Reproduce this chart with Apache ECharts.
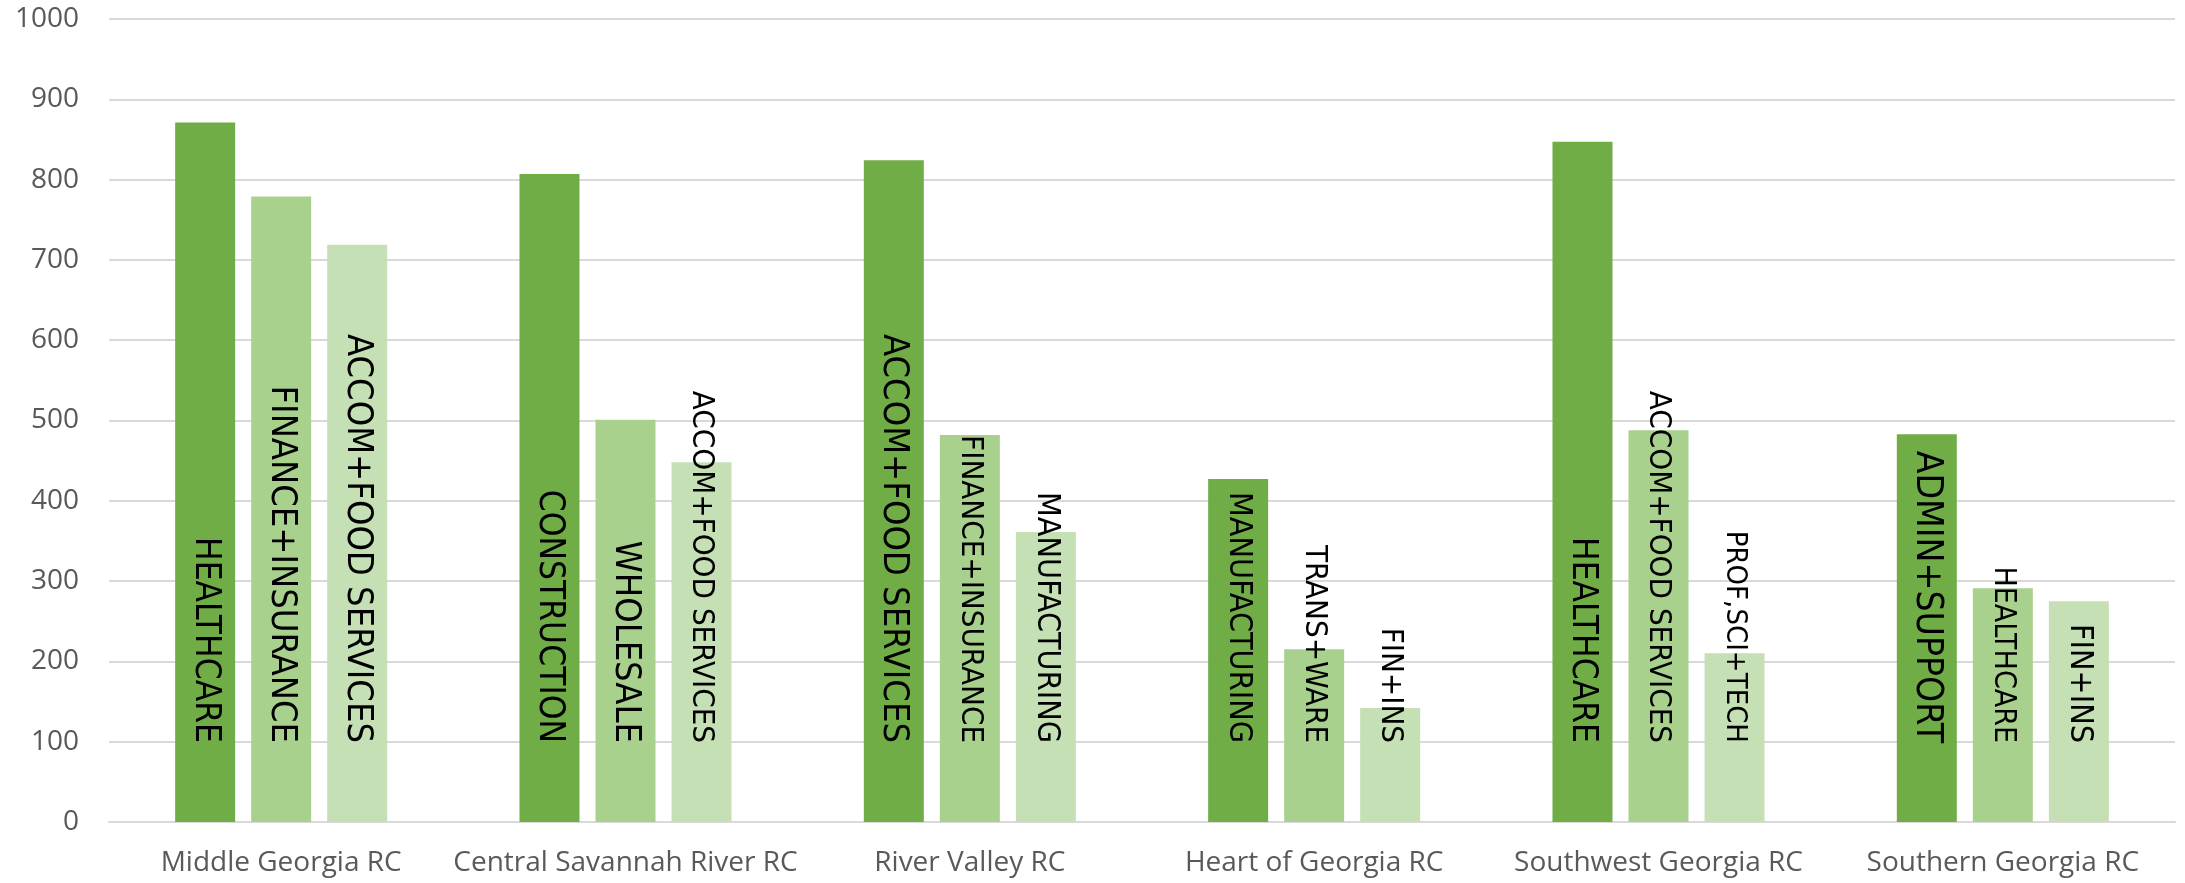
<!DOCTYPE html>
<html>
<head>
<meta charset="utf-8">
<style>
  html, body { margin: 0; padding: 0; background: #ffffff; }
  #chart { width: 2185px; height: 883px; }
</style>
<script src="https://cdn.jsdelivr.net/npm/echarts@6/dist/echarts.min.js"></script>
</head>
<body>
<div id="chart"></div>
<script>
// Regional commissions along the category axis
const regions = [
  'Middle Georgia RC',
  'Central Savannah River RC',
  'River Valley RC',
  'Heart of Georgia RC',
  'Southwest Georgia RC',
  'Southern Georgia RC'
];

// Top three industries per region (rank 1, 2, 3)
const firstValues  = [871, 807, 824, 427, 847, 483];
const secondValues = [779, 501, 482, 215, 488, 291];
const thirdValues  = [719, 448, 361, 142, 210, 275];

const firstIndustry  = ['HEALTHCARE', 'CONSTRUCTION', 'ACCOM+FOOD SERVICES', 'MANUFACTURING', 'HEALTHCARE', 'ADMIN+SUPPORT'];
const secondIndustry = ['FINANCE+INSURANCE', 'WHOLESALE', 'FINANCE+INSURANCE', 'TRANS+WARE', 'ACCOM+FOOD SERVICES', 'HEALTHCARE'];
const thirdIndustry  = ['ACCOM+FOOD SERVICES', 'ACCOM+FOOD SERVICES', 'MANUFACTURING', 'FIN+INS', 'PROF,SCI+TECH', 'FIN+INS'];

const yTicks = { min: 0, max: 1000, step: 100 };

// Label type sizes, one per bar in each series
const firstLabelSize  = [35, 35, 36, 32, 35, 37];
const secondLabelSize = [36, 36, 31, 31, 31, 30];
const thirdLabelSize  = [36, 31, 32, 31, 29, 32];

const colors = ['#70AD47', '#A9D18E', '#C5E0B4'];
const labelFont = "'Liberation Sans Narrow', 'Arial Narrow', 'DejaVu Sans Condensed', 'Liberation Sans', sans-serif";
const axisFont = "'Open Sans', 'Noto Sans', sans-serif";

function buildSeries(values, names, sizes, color) {
  return {
    type: 'bar',
    barWidth: 60,
    barGap: '26.7%',
    itemStyle: { color: color },
    data: values.map((v, i) => ({
      value: v,
      label: {
        show: true,
        formatter: names[i],
        fontSize: sizes[i]
      }
    })),
    label: {
      show: true,
      position: 'insideBottom',
      distance: 79,
      rotate: -90,
      align: 'right',
      verticalAlign: 'middle',
      color: '#000000',
      fontFamily: labelFont
    },
    emphasis: { disabled: true }
  };
}

const chart = echarts.init(document.getElementById('chart'), null, { renderer: 'canvas' });

chart.setOption({
  animation: false,
  backgroundColor: '#ffffff',
  grid: { left: 109, right: 10, top: 19, bottom: 61, containLabel: false },
  xAxis: {
    type: 'category',
    data: regions,
    axisLine: { show: true, lineStyle: { color: '#D9D9D9', width: 2 } },
    axisTick: { show: false },
    axisLabel: {
      interval: 0,
      hideOverlap: false,
      color: '#595959',
      fontFamily: axisFont,
      fontSize: 28,
      margin: 27
    }
  },
  yAxis: {
    type: 'value',
    min: yTicks.min,
    max: yTicks.max,
    interval: yTicks.step,
    axisLine: { show: false },
    axisTick: { show: false },
    splitLine: { lineStyle: { color: '#D9D9D9', width: 2 } },
    axisLabel: {
      formatter: (v) => String(v),
      color: '#595959',
      fontFamily: axisFont,
      fontSize: 28,
      margin: 30
    }
  },
  series: [
    buildSeries(firstValues, firstIndustry, firstLabelSize, colors[0]),
    buildSeries(secondValues, secondIndustry, secondLabelSize, colors[1]),
    buildSeries(thirdValues, thirdIndustry, thirdLabelSize, colors[2])
  ]
});
</script>
</body>
</html>
